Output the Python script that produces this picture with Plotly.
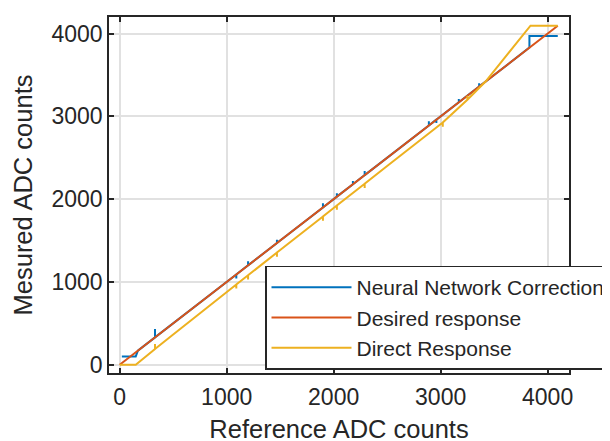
import plotly.graph_objects as go

# ---- data ----
desired_x = [0, 4095]
desired_y = [0, 4095]

nn_x = [20, 150, 170, 330, 330, 330, 1090, 1090, 1090, 1200, 1200, 1200,
        1470, 1470, 1470, 1900, 1900, 1900, 2030, 2030, 2030, 2180, 2180, 2180,
        2290, 2290, 2290, 2890, 2890, 2890, 2960, 2960, 2960, 3170, 3170, 3170,
        3360, 3360, 3360, 3830, 3830, 4095]
nn_y = [100, 100, 170, 330, 430, 330, 1090, 1040, 1090, 1200, 1250, 1200,
        1470, 1510, 1470, 1900, 1950, 1900, 2030, 2070, 2030, 2180, 2220, 2180,
        2290, 2340, 2290, 2890, 2940, 2890, 2960, 2920, 2960, 3170, 3210, 3170,
        3360, 3400, 3360, 3830, 3970, 3970]

direct_x = [0, 150, 330, 330, 330, 500, 1000, 1090, 1090, 1090, 1200, 1200, 1200,
            1470, 1470, 1470, 1500, 1900, 1900, 1900, 2000, 2030, 2030, 2030,
            2290, 2290, 2290, 2500, 3000, 3020, 3020, 3020, 3250, 3250, 3250,
            3420, 3600, 3840, 4095]
direct_y = [0, 0, 190, 250, 190, 365, 880, 970, 920, 970, 1080, 1030, 1080,
            1355, 1305, 1355, 1385, 1790, 1740, 1790, 1893, 1923, 1873, 1923,
            2185, 2135, 2185, 2400, 2905, 2925, 2875, 2925, 3200, 3250, 3200,
            3420, 3705, 4095, 4095]

x_ticks = [0, 1000, 2000, 3000, 4000]
y_ticks = [0, 1000, 2000, 3000, 4000]

names = ["Neural Network Correction", "Desired response", "Direct Response"]
colors = ["#0072BD", "#D95319", "#EDB120"]

FONT = "Liberation Sans, Arial, sans-serif"
DARK = "#262626"

# the page body has an 8px default margin; plot area targeted at x 109..569, y 17..373
BODY = 8
L, R, T, B = 109 - BODY, 610 - 569 + BODY, 17 - BODY, 441 - 373 + BODY
PW, PH = 610 - L - R, 441 - T - B

fig = go.Figure()
for (xs, ys), name, col in zip([(nn_x, nn_y), (desired_x, desired_y), (direct_x, direct_y)], names, colors):
    fig.add_trace(go.Scatter(x=xs, y=ys, mode="lines", name=name,
                             line=dict(color=col, width=2)))

axis_common = dict(
    range=[-100, 4200], showgrid=True, gridcolor="#e1e1e1", gridwidth=1.5,
    zeroline=False, showline=True, linecolor=DARK, linewidth=1.5,
    mirror="ticks", ticks="inside", ticklen=5, tickwidth=1.5, tickcolor=DARK,
    tickfont=dict(family=FONT, size=23, color=DARK),
)

fig.update_layout(
    width=610, height=441,
    margin=dict(l=L, r=R, t=T, b=B, autoexpand=False),
    paper_bgcolor="white", plot_bgcolor="white",
    font=dict(family=FONT, color=DARK),
    xaxis=dict(axis_common, tickvals=x_ticks, ticklabelstandoff=3,
               title=dict(text="Reference ADC counts", font=dict(family=FONT, size=25.5, color=DARK), standoff=11)),
    yaxis=dict(axis_common, tickvals=y_ticks,
               title=dict(text="Mesured ADC counts", font=dict(family=FONT, size=25.5, color=DARK), standoff=12)),
    legend=dict(x=(265 - 109) / PW, y=(373 - 265.5) / PH, xanchor="left", yanchor="top",
                bgcolor="white", bordercolor=DARK, borderwidth=1.5,
                font=dict(family=FONT, size=21, color=DARK), itemwidth=80,
                tracegroupgap=0),
    showlegend=True,
)

fig.write_html("out.html")
